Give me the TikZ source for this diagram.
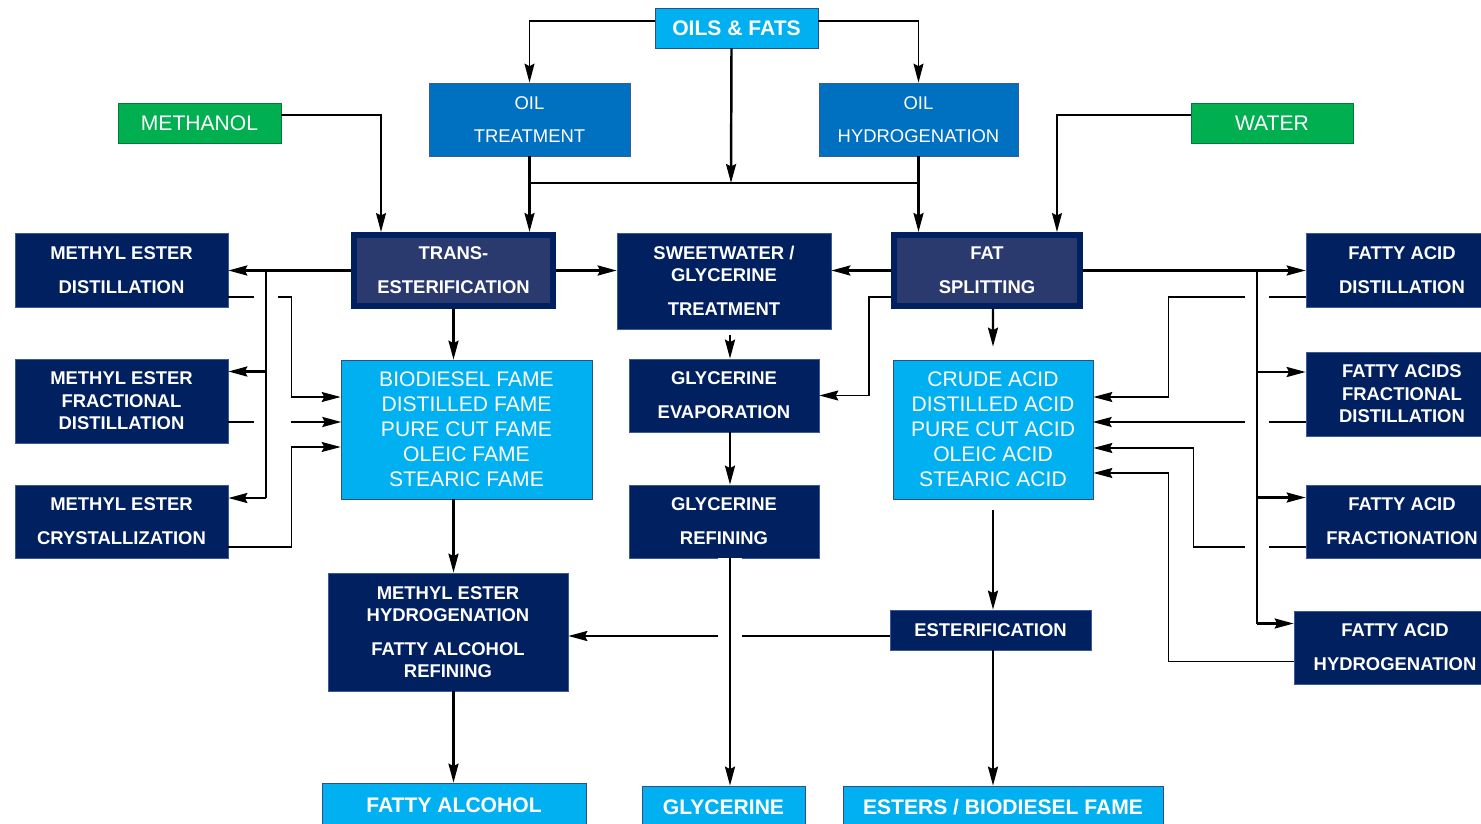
\documentclass[tikz,border=0pt]{standalone}
\usepackage{fontspec}
\setmainfont{Liberation Sans}
\usetikzlibrary{arrows.meta}
\definecolor{navy}{HTML}{002060}
\definecolor{slate}{HTML}{2B3A6E}
\definecolor{skyblue}{HTML}{00B0F0}
\definecolor{oilblue}{HTML}{0070C0}
\definecolor{feedgreen}{HTML}{00B050}
\definecolor{edge}{HTML}{3A5A9A}

\begin{document}
\begin{tikzpicture}[x=0.02cm, y=-0.02cm,
        every node/.style={text=white, align=center, inner sep=0pt},
        procbox/.style={fill=navy, draw=edge, thin, font=\fontsize{10.5}{12.75}\selectfont\bfseries},
        keybox/.style={fill=slate, draw=navy, line width=0.12cm, font=\fontsize{10.5}{12.75}\selectfont\bfseries},
        oilbox/.style={fill=oilblue, draw=edge, thin, font=\fontsize{10.5}{12.75}\selectfont},
        feedbox/.style={fill=feedgreen, draw=feedgreen!70!black, thin, font=\fontsize{12}{14}\selectfont},
        listbox/.style={fill=skyblue, draw=navy!80, thin, font=\fontsize{12}{14.2}\selectfont},
        prodbox/.style={fill=skyblue, draw=navy!80, thin, font=\fontsize{12}{14}\selectfont\bfseries},
        arrow/.style={-{Stealth[length=3.8mm, width=2mm, inset=0.5mm]}, line width=1.4pt},
        feed/.style={arrow, line width=0.8pt},
        bus/.style={line width=1.1pt},
        halo/.style={preaction={draw=white, line width=0.48cm}}]

        \useasboundingbox (0,0) rectangle (1481,824);

        \node[prodbox, minimum width=3.26cm, minimum height=0.8cm] (oils) at (736.5,28) {OILS \& FATS};
        \node[oilbox, minimum width=4.02cm, minimum height=1.46cm] (oiltreat) at (529.5,119.5) {OIL\\[6pt]TREATMENT};
        \node[oilbox, minimum width=3.98cm, minimum height=1.46cm] (oilhydro) at (918.5,119.5) {OIL\\[6pt]HYDROGENATION};
        \node[feedbox, minimum width=3.26cm, minimum height=0.8cm] (methanol) at (199.5,123) {METHANOL};
        \node[feedbox, minimum width=3.24cm, minimum height=0.8cm] (water) at (1272,123) {WATER};

        \node[keybox, minimum width=3.98cm, minimum height=1.42cm] (transest) at (453.5,270.5) {TRANS-\\[6.5pt]ESTERIFICATION};
        \node[procbox, minimum width=4.28cm, minimum height=1.92cm] (sweet) at (724,281) {SWEETWATER /\\GLYCERINE\\[6.5pt]TREATMENT};
        \node[keybox, minimum width=3.72cm, minimum height=1.42cm] (fatsplit) at (987,270.5) {FAT\\[6.5pt]SPLITTING};

        \node[procbox, minimum width=4.26cm, minimum height=1.48cm] (medist) at (121.5,270) {METHYL ESTER\\[6.5pt]DISTILLATION};
        \node[procbox, minimum width=4.26cm, minimum height=1.68cm] (mefrac) at (121.5,401) {METHYL ESTER\\FRACTIONAL\\DISTILLATION};
        \node[procbox, minimum width=4.26cm, minimum height=1.46cm] (mecryst) at (121.5,521.5) {METHYL ESTER\\[6.5pt]CRYSTALLIZATION};

        \node[listbox, minimum width=5.02cm, minimum height=2.78cm] (fame) at (466.5,429.5) {BIODIESEL FAME\\DISTILLED FAME\\PURE CUT FAME\\OLEIC FAME\\STEARIC FAME};
        \node[procbox, minimum width=3.8cm, minimum height=1.46cm] (glyevap) at (724,395.5) {GLYCERINE\\[6.5pt]EVAPORATION};
        \node[procbox, minimum width=3.8cm, minimum height=1.46cm] (glyref) at (724,521.5) {GLYCERINE\\[6.5pt]REFINING};
        \node[listbox, minimum width=4cm, minimum height=2.78cm] (crude) at (993,429.5) {CRUDE ACID\\DISTILLED ACID\\PURE CUT ACID\\OLEIC ACID\\STEARIC ACID};

        \node[procbox, minimum width=3.84cm, minimum height=1.48cm] (fadist) at (1402,270) {FATTY ACID\\[6.5pt]DISTILLATION};
        \node[procbox, minimum width=3.84cm, minimum height=1.68cm] (fafrac) at (1402,394) {FATTY ACIDS\\FRACTIONAL\\DISTILLATION};
        \node[procbox, minimum width=3.84cm, minimum height=1.46cm] (fafract) at (1402,521.5) {FATTY ACID\\[6.5pt]FRACTIONATION};
        \node[procbox, minimum width=4.04cm, minimum height=1.46cm] (fahydro) at (1395,647.5) {FATTY ACID\\[6.5pt]HYDROGENATION};

        \node[procbox, minimum width=4.8cm, minimum height=2.36cm] (mehydro) at (448,632) {METHYL ESTER\\HYDROGENATION\\[6.5pt]FATTY ALCOHOL\\REFINING};
        \node[procbox, minimum width=4.02cm, minimum height=0.8cm] (ester) at (990.5,630) {ESTERIFICATION};

        \node[prodbox, minimum width=5.28cm, minimum height=0.88cm] (falc) at (454,805) {FATTY ALCOHOL};
        \node[prodbox, minimum width=3.26cm, minimum height=0.84cm] (glyc) at (723.5,807) {GLYCERINE};
        \node[prodbox, minimum width=6.4cm, minimum height=0.84cm] (esters) at (1003,807) {ESTERS / BIODIESEL FAME};

        \coordinate (mix) at (731,183);
        \coordinate (mebus) at (266,271);
        \coordinate (fabus) at (1257,271);
        \coordinate (mefrac-in) at ([yshift=0.59cm]mefrac.east);
        \coordinate (mecryst-in) at ([yshift=0.47cm]mecryst.east);
        \coordinate (fafrac-in) at ([yshift=0.44cm]fafrac.west);
        \coordinate (fafract-in) at ([yshift=0.48cm]fafract.west);
        \coordinate (fahydro-in) at ([yshift=0.48cm]fahydro.west);
        \coordinate (glyout) at ([xshift=0.12cm]glyref.south);

        \draw[feed] ([yshift=0.14cm]oils.west) -| (oiltreat.north);
        \draw[feed] ([yshift=0.14cm]oils.east) -| (oilhydro.north);
        \draw[arrow] ([xshift=-0.1cm]oils.south) -- (mix);
        \draw[bus, line width=0.8pt] (oiltreat.south |- mix) -- (oilhydro.south |- mix);
        \draw[arrow] (oiltreat.south) -- (oiltreat.south |- transest.north);
        \draw[arrow] (oilhydro.south) -- (oilhydro.south |- fatsplit.north);
        \draw[feed] ([yshift=0.16cm]methanol.east) -| ([xshift=-1.45cm]transest.north);
        \draw[feed] ([yshift=0.16cm]water.west) -| ([xshift=1.4cm]fatsplit.north);

        \draw[feed] ([yshift=-0.54cm]medist.east) -- ++(63,0) |- ([yshift=0.65cm]fame.west);
        \draw[feed, -] ([yshift=-0.42cm]mefrac.east) -- ++(27,0);
        \draw[arrow] ([yshift=-0.42cm, xshift=1.26cm]mefrac.east) -- ++(50,0);
        \draw[feed] ([yshift=-0.51cm]mecryst.east) -- ++(63,0) |- ([yshift=-0.35cm]fame.west);
        \draw[bus, halo] (mebus) -- (mebus |- mecryst-in);
        \draw[arrow] (transest.west) -- (transest.west -| medist.east);
        \draw[arrow] (mebus |- mefrac-in) -- (mefrac-in);
        \draw[arrow] (mebus |- mecryst-in) -- (mecryst-in);

        \draw[feed] ([yshift=-0.54cm]fadist.west) -- ++(-137,0) |- ([yshift=0.65cm]crude.east);
        \draw[feed] ([yshift=-0.56cm]fafrac.west) -- ++(-213,0);
        \draw[feed] ([yshift=-0.51cm]fafract.west) -- ++(-112,0) |- ([yshift=-0.37cm]crude.east);
        \draw[feed] ([yshift=-0.28cm]fahydro.west) -- ++(-125,0) |- ([yshift=-0.87cm]crude.east);
        \draw[bus, line width=0.8pt, halo] (fabus) -- (fabus |- fahydro-in);
        \draw[arrow] (fatsplit.east) -- (fatsplit.east -| fadist.west);
        \draw[arrow] (fabus |- fafrac-in) -- (fafrac-in);
        \draw[arrow] (fabus |- fafract-in) -- (fafract-in);
        \draw[arrow] (fabus |- fahydro-in) -- (fahydro-in);

        \draw[arrow] (transest.east) -- (transest.east -| sweet.west);
        \draw[arrow] (fatsplit.west) -- (fatsplit.west -| sweet.east);
        \draw[feed] ([yshift=-0.53cm]fatsplit.west) -- ++(-22,0) |- (glyevap.east);
        \draw[arrow] ([xshift=0.12cm, yshift=-0.12cm]sweet.south) -- ([xshift=0.12cm]glyevap.north);
        \draw[arrow] ([xshift=0.12cm]glyevap.south) -- ([xshift=0.12cm]glyref.north);

        \draw[arrow] (transest.south) -- (transest.south |- fame.north);
        \draw[arrow] (transest.south |- fame.south) -- (transest.south |- mehydro.north);
        \draw[arrow] (transest.south |- mehydro.south) -- (transest.south |- falc.north);

        \draw[arrow, shorten >=0.26cm] ([xshift=0.12cm]fatsplit.south) -- (crude.north);
        \draw[arrow, shorten <=0.22cm] (crude.south) -- (crude.south |- ester.north);
        \draw[arrow] (crude.south |- ester.south) -- (crude.south |- esters.north);
        \draw[arrow] ([yshift=-0.12cm]ester.west) -- ([yshift=-0.12cm]ester.west -| mehydro.east);
        \draw[arrow, halo] (glyout) -- (glyout |- glyc.north);
      \end{tikzpicture}
\end{document}
